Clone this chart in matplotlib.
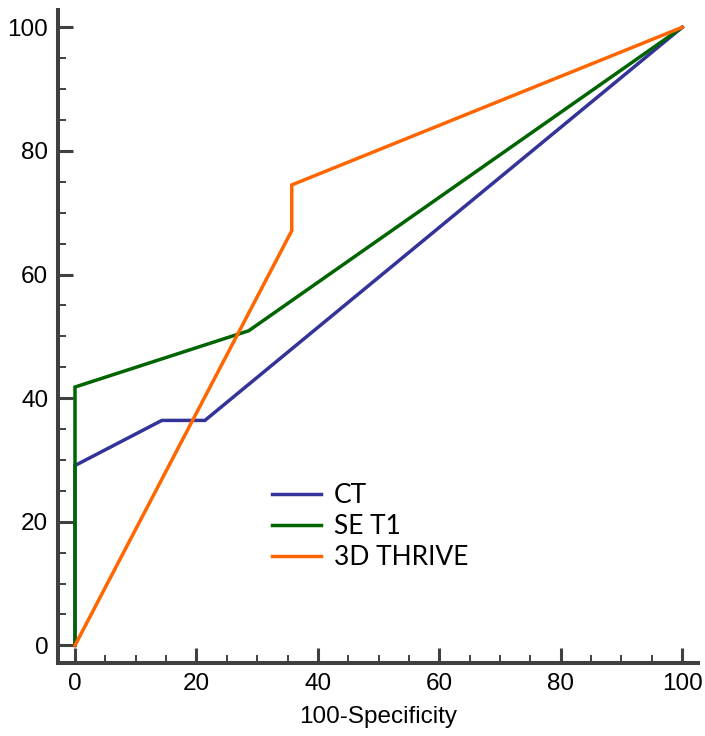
import matplotlib
matplotlib.use("Agg")
import matplotlib.pyplot as plt
from matplotlib.ticker import MultipleLocator

# Data
ct_x = [0, 0, 14.3, 21.4, 100]
ct_y = [0, 29.1, 36.4, 36.4, 100]
se_x = [0, 0, 28.6, 100]
se_y = [0, 41.8, 50.9, 100]
th_x = [0, 35.7, 35.7, 100]
th_y = [0, 67.1, 74.5, 100]
labels = ["CT", "SE T1", "3D THRIVE"]
colors = ["#333399", "#006400", "#ff6600"]
xticks = [0, 20, 40, 60, 80, 100]
yticks = [0, 20, 40, 60, 80, 100]

W, H = 705, 736
fig = plt.figure(figsize=(W / 100, H / 100), dpi=100)
ax = fig.add_axes([58 / W, 1 - 663 / H, 640 / W, 653 / H])

lw = 2.5
ax.plot(ct_x, ct_y, color=colors[0], lw=lw, label=labels[0], solid_joinstyle="miter")
ax.plot(se_x, se_y, color=colors[1], lw=lw, label=labels[1], solid_joinstyle="miter")
ax.plot(th_x, th_y, color=colors[2], lw=lw, label=labels[2], solid_joinstyle="miter")

ax.set_xlim(-2.8, 102.6)
ax.set_ylim(-2.85, 102.8)
ax.set_xticks(xticks)
ax.set_yticks(yticks)
ax.xaxis.set_minor_locator(MultipleLocator(5))
ax.yaxis.set_minor_locator(MultipleLocator(5))

spc = "#404040"
for s in ["top", "right"]:
    ax.spines[s].set_visible(False)
for s in ["left", "bottom"]:
    ax.spines[s].set_linewidth(2.9)
    ax.spines[s].set_color(spc)
    ax.spines[s].set_capstyle("projecting")

ax.tick_params(which="major", direction="in", length=11, width=2.2, color=spc, pad=7,
               labelsize=17.5)
ax.tick_params(which="minor", direction="in", length=5.5, width=1.4, color=spc)
for lab in ax.get_xticklabels() + ax.get_yticklabels():
    lab.set_fontfamily("Liberation Sans")

ax.set_xlabel("100-Specificity", fontfamily="Liberation Sans", fontsize=17.5, labelpad=8)

leg = ax.legend(loc="upper left", bbox_to_anchor=(272 / W, 1 - 483 / H),
                bbox_transform=fig.transFigure, frameon=False, borderpad=0,
                borderaxespad=0, handlelength=1.85, handletextpad=0.5,
                labelspacing=0.23, prop={"family": "Lato", "size": 19})

fig.savefig("out.png", dpi=100)
